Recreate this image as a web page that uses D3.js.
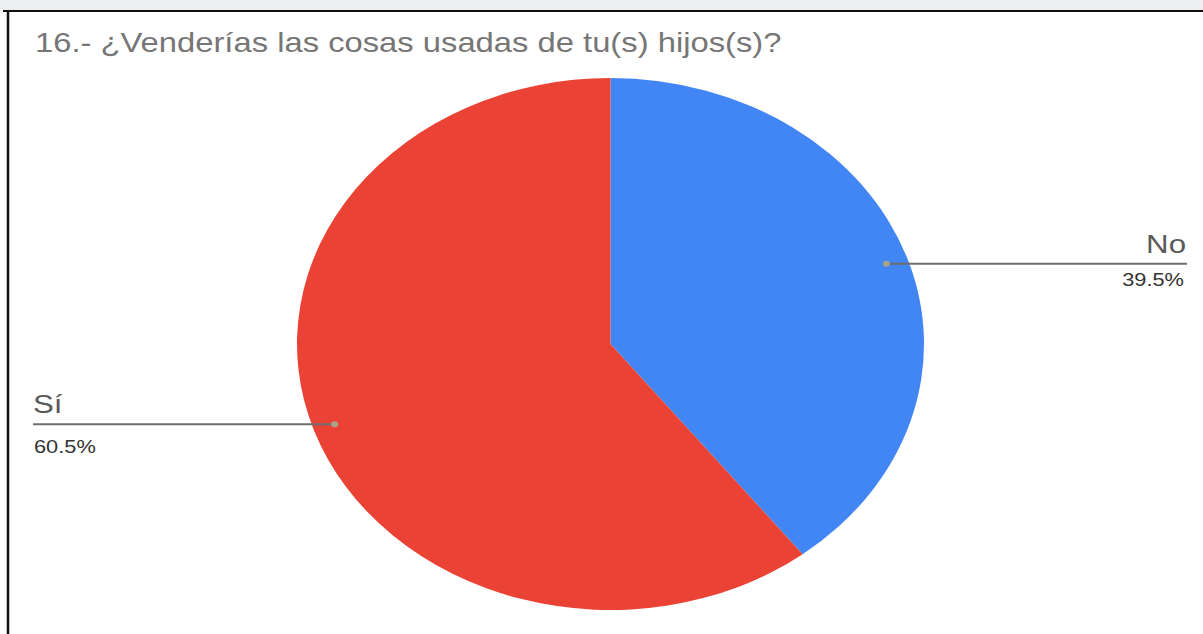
<!DOCTYPE html>
<html>
<head>
<meta charset="utf-8">
<script src="https://cdn.jsdelivr.net/npm/d3@7"></script>
<style>
  html, body { margin: 0; padding: 0; background: #fff; }
  svg { display: block; font-family: "Liberation Sans", Arial, sans-serif; }
</style>
</head>
<body>
<svg id="chart" width="1203" height="634"></svg>
<script>
// Datos del gráfico
const categories = ["No", "Sí"];
const values = [39.5, 60.5];
const valueLabels = ["39.5%", "60.5%"];
const colors = ["#4285f4", "#ea4335"];
const title = "16.- ¿Venderías las cosas usadas de tu(s) hijos(s)?";

const svg = d3.select("#chart");
const W = 1203, H = 634;

// la imagen original está estirada horizontalmente
const sx = 313.5 / 266;
const cx = 610.5, cy = 344, r = 266;

// franja gris superior y marco negro
svg.append("rect").attr("x", 0).attr("y", 0).attr("width", W).attr("height", 10).attr("fill", "#eceef1");
svg.append("line").attr("x1", 3).attr("x2", W).attr("y1", 11).attr("y2", 11)
    .attr("stroke", "#111").attr("stroke-width", 2);
svg.append("line").attr("x1", 8).attr("x2", 8).attr("y1", 10).attr("y2", H)
    .attr("stroke", "#111").attr("stroke-width", 2.5);

// título
svg.append("text")
    .attr("transform", `translate(35,52) scale(${sx},1)`)
    .attr("font-size", 27.8)
    .attr("fill", "#767676")
    .text(title);

const pie = d3.pie().sort(null).value(d => d)(values);
const arc = d3.arc().innerRadius(0).outerRadius(r);

const g = svg.append("g").attr("transform", `translate(${cx},${cy}) scale(${sx},1)`);
g.selectAll("path")
    .data(pie)
    .enter().append("path")
    .attr("d", arc)
    .attr("fill", (d, i) => colors[i]);

// punto sobre el sector (en coordenadas de pantalla)
function anchor(d) {
    const a = (d.startAngle + d.endAngle) / 2;
    return [cx + 0.93 * r * sx * Math.sin(a), cy - 0.93 * r * Math.cos(a)];
}

// posiciones de las etiquetas
const labelLayout = [
    { side: "right", lineEnd: 1187, nameX: 1186, nameY: 253, pctX: 1184, pctY: 286 },
    { side: "left", lineEnd: 33, nameX: 33, nameY: 413, pctX: 34, pctY: 453 }
];

pie.forEach((d, i) => {
    const p = anchor(d);
    const L = labelLayout[i];
    const anchorTxt = L.side === "right" ? "end" : "start";
    svg.append("line")
        .attr("x1", p[0]).attr("y1", p[1])
        .attr("x2", L.lineEnd).attr("y2", p[1])
        .attr("stroke", "#6e6e6e").attr("stroke-width", 2);
    svg.append("ellipse")
        .attr("cx", p[0]).attr("cy", p[1]).attr("rx", 3.5).attr("ry", 3)
        .attr("fill", "#a7a48a");
    svg.append("text")
        .attr("transform", `translate(${L.nameX},${L.nameY}) scale(${sx},1)`)
        .attr("text-anchor", anchorTxt)
        .attr("font-size", 26.5)
        .attr("fill", "#5a5a5a")
        .text(categories[i]);
    svg.append("text")
        .attr("transform", `translate(${L.pctX},${L.pctY}) scale(${sx},1)`)
        .attr("text-anchor", anchorTxt)
        .attr("font-size", 18.5)
        .attr("fill", "#333")
        .text(valueLabels[i]);
});
</script>
</body>
</html>
